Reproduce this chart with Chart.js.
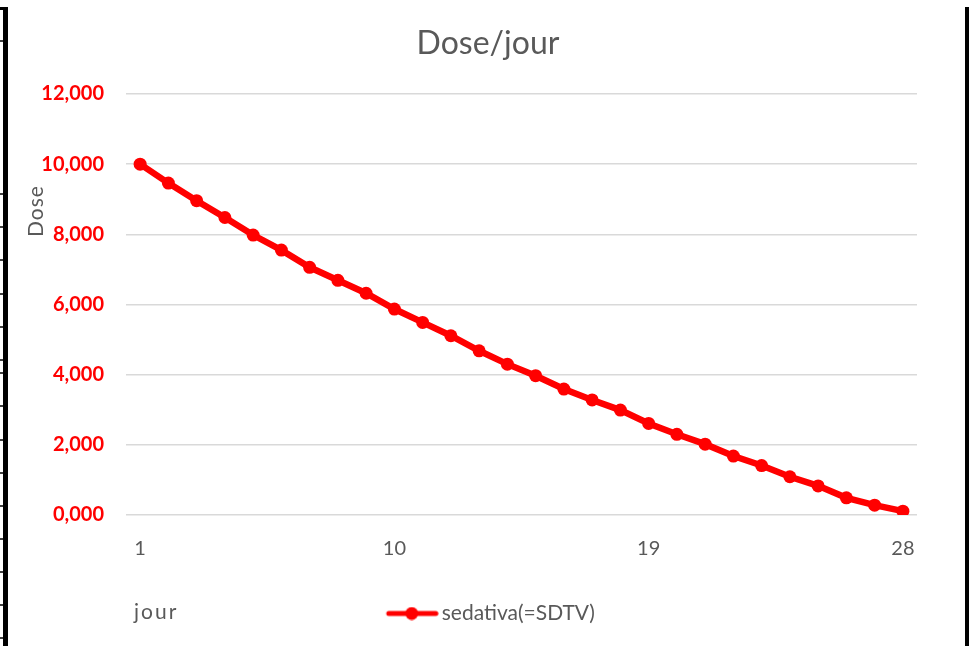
<!DOCTYPE html>
<html>
<head>
<meta charset="utf-8">
<script src="https://cdn.jsdelivr.net/npm/chart.js@4/dist/chart.umd.min.js"></script>
<style>
  html, body { margin: 0; padding: 0; background: #fff; }
  #wrap { position: relative; width: 973px; height: 646px; overflow: hidden; }
  #chart { position: absolute; left: 0; top: 0; }
  .edge { position: absolute; background: #000; }
  .cell { position: absolute; left: 0; width: 3px; height: 2px; background: #404040; }
</style>
</head>
<body>
<div id="wrap">
  <canvas id="chart" width="973" height="646"></canvas>
  <!-- sheet borders around the chart -->
  <div class="edge" style="left:3px;top:7px;width:5px;height:639px"></div>
  <div class="edge" style="left:0;top:7px;width:8px;height:3px"></div>
  <div class="edge" style="left:965px;top:7px;width:4px;height:639px"></div>
  <div class="cell" style="top:40px"></div>
  <div class="cell" style="top:193px"></div>
  <div class="cell" style="top:226px"></div>
  <div class="cell" style="top:259px"></div>
  <div class="cell" style="top:293px"></div>
  <div class="cell" style="top:326px"></div>
  <div class="cell" style="top:359px"></div>
  <div class="cell" style="top:372px"></div>
  <div class="cell" style="top:405px"></div>
  <div class="cell" style="top:439px"></div>
  <div class="cell" style="top:472px"></div>
  <div class="cell" style="top:505px"></div>
  <div class="cell" style="top:538px"></div>
  <div class="cell" style="top:571px"></div>
  <div class="cell" style="top:604px"></div>
  <div class="cell" style="top:637px"></div>
</div>
<script>
// Days of the treatment.
const days = ['1', '2', '3', '4', '5', '6', '7', '8', '9', '10', '11', '12', '13', '14',
              '15', '16', '17', '18', '19', '20', '21', '22', '23', '24', '25', '26', '27', '28'];
// Dose given per day.
const dose = [10.00, 9.46, 8.96, 8.48, 7.98, 7.55, 7.06, 6.69, 6.32, 5.87, 5.49, 5.11, 4.68, 4.30,
              3.97, 3.59, 3.28, 2.99, 2.61, 2.30, 2.02, 1.68, 1.41, 1.09, 0.83, 0.49, 0.28, 0.11];
// Only these day labels are written under the axis.
const shownDays = ['1', '10', '19', '28'];
const seriesName = 'sedativa(=SDTV)';
const chartTitle = 'Dose/jour';

const red = '#ff0000';
const grey = '#595959';
const font = 'Lato';

// Legend symbol: a line with a dot in the middle. The empty strip on the left
// moves the legend a little to the right, like in the spreadsheet.
const icon = document.createElement( 'canvas' );
icon.width = 88;
icon.height = 14;
const ic = icon.getContext( '2d' );
ic.strokeStyle = red;
ic.lineWidth = 5;
ic.lineCap = 'round';
ic.beginPath();
ic.moveTo( 38, 7 );
ic.lineTo( 85, 7 );
ic.stroke();
ic.fillStyle = red;
ic.beginPath();
ic.arc( 61, 7, 6.5, 0, Math.PI * 2 );
ic.fill();

// Title and axis names are placed like in the spreadsheet, not centred on the axes.
const sheetTexts = {
    id: 'sheetTexts',
    afterDraw( chart ) {
        const ctx = chart.ctx;
        const area = chart.chartArea;
        ctx.save();
        ctx.fillStyle = grey;
        ctx.textBaseline = 'alphabetic';
        ctx.font = '32px ' + font;
        ctx.textAlign = 'center';
        ctx.fillText( chartTitle, 488, 54 );
        ctx.font = '21px ' + font;
        ctx.letterSpacing = '2px';
        ctx.textAlign = 'left';
        ctx.fillText( 'jour', area.left + 8, 619 );
        ctx.letterSpacing = '1px';
        ctx.translate( 43, 211 );
        ctx.rotate( -Math.PI / 2 );
        ctx.textAlign = 'center';
        ctx.fillText( 'Dose', 0, 0 );
        ctx.restore();
    }
};

new Chart( document.getElementById( 'chart' ), {
    type: 'line',
    data: {
        labels: days,
        datasets: [{
            label: seriesName,
            data: dose,
            borderColor: red,
            backgroundColor: red,
            borderWidth: 6.5,
            pointRadius: 6.5,
            pointHoverRadius: 6.5,
            pointBackgroundColor: red,
            pointBorderWidth: 0,
            tension: 0
        }]
    },
    options: {
        responsive: false,
        animation: false,
        layout: { padding: { left: 36, right: 56, top: 94, bottom: 12 } },
        plugins: {
            title: { display: false },
            legend: {
                position: 'bottom',
                labels: {
                    usePointStyle: true,
                    pointStyle: icon,
                    pointStyleWidth: 73,
                    color: grey,
                    font: { family: font, size: 21 },
                    padding: 10
                }
            },
            tooltip: { enabled: false }
        },
        scales: {
            x: {
                offset: true,
                grid: { display: false },
                border: { display: false },
                ticks: {
                    autoSkip: false,
                    maxRotation: 0,
                    color: grey,
                    font: { family: font, size: 20 },
                    padding: 14,
                    callback: function( value ) {
                        const day = this.getLabelForValue( value );
                        return shownDays.includes( day ) ? day : '';
                    }
                },
                afterFit( scale ) { scale.height = 78; }
            },
            y: {
                min: 0,
                max: 12,
                grid: { color: '#d9d9d9', lineWidth: 1.5, drawTicks: false },
                border: { display: false },
                ticks: {
                    stepSize: 2,
                    padding: 22,
                    color: red,
                    font: { family: font, size: 20, weight: 'bold' },
                    callback: ( value ) => value.toFixed( 3 ).replace( '.', ',' )
                },
                afterFit( scale ) { scale.width = 90; }
            }
        }
    },
    plugins: [ sheetTexts ]
});
</script>
</body>
</html>
